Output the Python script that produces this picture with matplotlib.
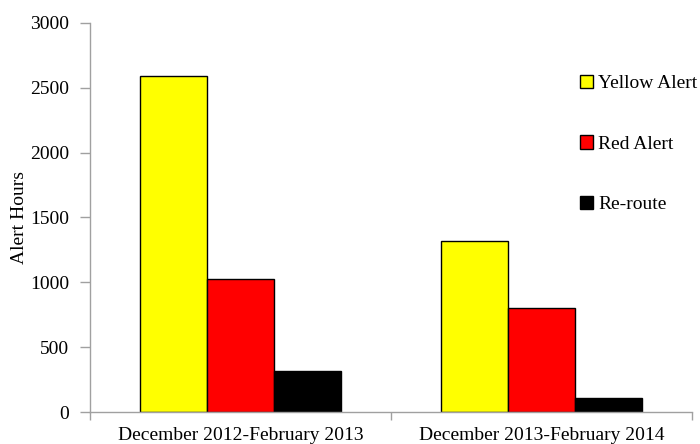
import matplotlib
matplotlib.use("Agg")
import matplotlib.pyplot as plt
import numpy as np

categories = ["December 2012-February 2013", "December 2013-February 2014"]
series_names = ["Yellow Alert", "Red Alert", "Re-route"]
yellow = [2595, 1315]
red = [1025, 805]
reroute = [320, 105]
colors = ["#FFFF00", "#FF0000", "#000000"]

plt.rcParams['font.family'] = ['Liberation Serif', 'DejaVu Serif']

fig = plt.figure(figsize=(7.0, 4.44), dpi=100)
ax = fig.add_axes([90/700, 1-412/444, (692-90)/700, (412-23)/444])

x = np.arange(len(categories))
w = 0.222
handles = []
for i, (vals, name, c) in enumerate(zip([yellow, red, reroute], series_names, colors)):
    h = ax.bar(x + (i-1)*w, vals, width=w, color=c, edgecolor='black', linewidth=1.0, label=name)
    handles.append(h)

ax.set_xlim(-0.5, 1.5)
ax.set_ylim(0, 3000)
ax.set_yticks(np.arange(0, 3001, 500))
ax.tick_params(axis='y', labelsize=14, color='#A0A0A0', length=7, width=1, pad=8)
ax.set_xticks([-0.5, 0.5, 1.5])
ax.set_xticklabels([])
ax.set_xticks(x, minor=True)
ax.set_xticklabels(categories, minor=True, fontsize=14)
ax.tick_params(axis='x', which='major', color='#A0A0A0', length=6, width=1)
ax.tick_params(axis='x', which='minor', length=0, pad=11)
for s in ['top', 'right']:
    ax.spines[s].set_visible(False)
for s in ['left', 'bottom']:
    ax.spines[s].set_color('#A0A0A0')
    ax.spines[s].set_linewidth(1)
ax.set_ylabel("Alert Hours", fontsize=14)
ax.yaxis.set_label_coords(-0.103, 0.5)

fig.legend(handles=handles, loc='upper left', bbox_to_anchor=(572/700, 1-67/444),
           frameon=False, fontsize=14, labelspacing=2.2, handlelength=0.7,
           handleheight=0.7, handletextpad=0.25, borderaxespad=0)

fig.savefig("out.png", dpi=100)
